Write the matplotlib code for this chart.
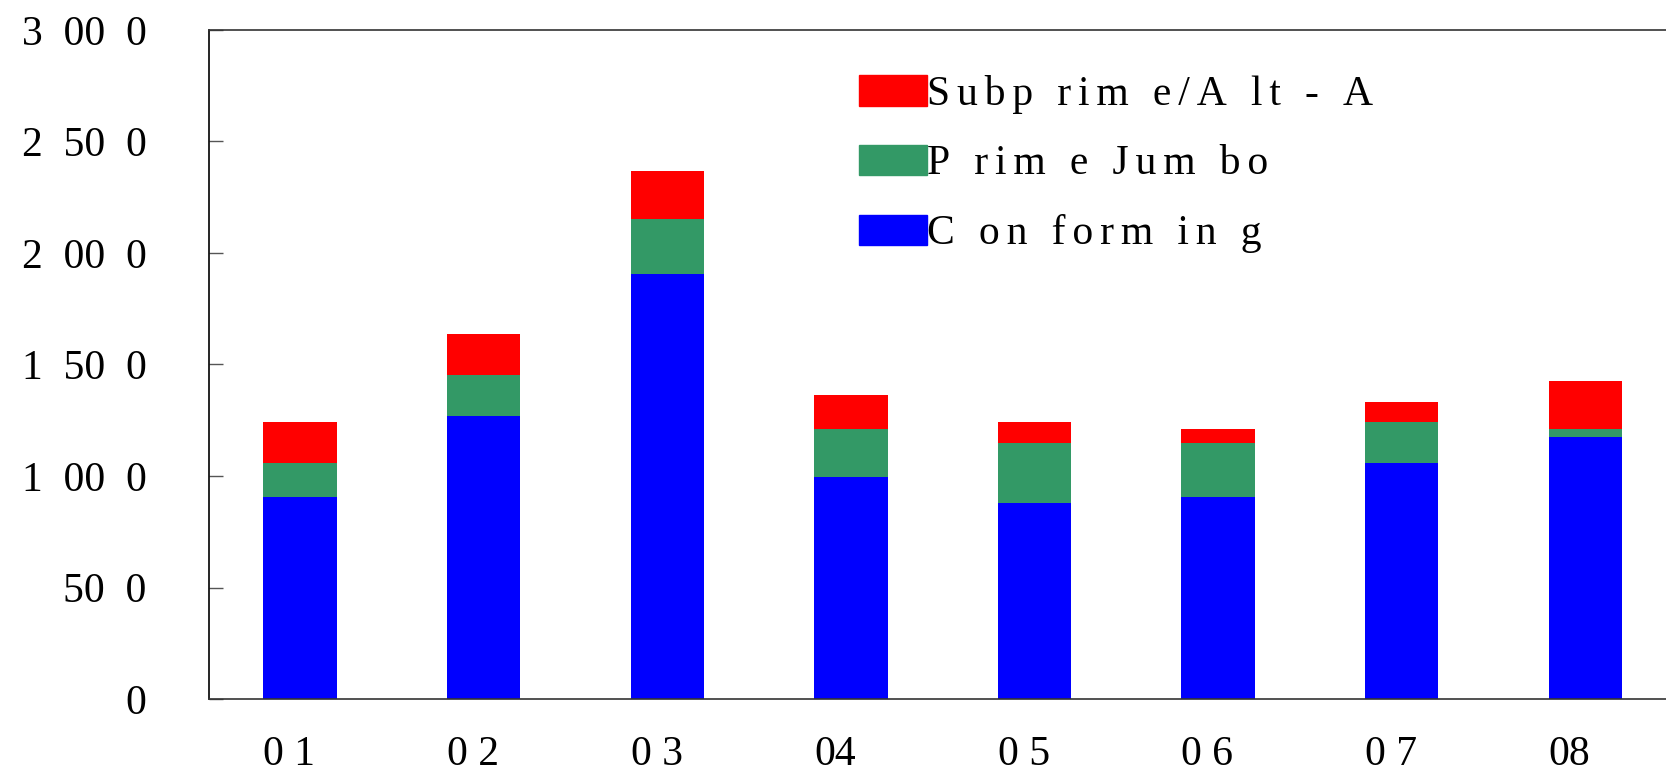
import numpy as np
import matplotlib.pyplot as plt
from matplotlib.patches import Patch

plt.rcParams['font.family'] = ['Liberation Serif', 'DejaVu Serif']

# Mortgage originations by segment
years = ["0 1", "0 2", "0 3", "04", "0 5", "0 6", "0 7", "08"]
conforming = [905, 1268, 1905, 995, 878, 905, 1058, 1174]
prime_jumbo = [153, 184, 246, 215, 271, 244, 184, 36]
subprime_alt_a = [184, 184, 216, 153, 93, 61, 89, 215]

y_ticks = [0, 500, 1000, 1500, 2000, 2500, 3000]
y_labels = ["0", "50  0", "1  00  0", "1  50  0", "2  00  0", "2  50  0", "3  00  0"]

series_names = ["Subp rim e/A lt - A", "P rim e Jum bo", "C on form in g"]
colors = {"conf": "#0000FF", "jumbo": "#339966", "sub": "#FF0000"}

FS = 30
GAP = "\u2006"  # six-per-em space


def spaced(s):
    # wide letter spacing for the legend entries
    return GAP.join(s)


fig = plt.figure(figsize=(16.66, 7.75), dpi=100)
ax = fig.add_axes([0.1255, 0.098, 1.0 - 0.1255, 0.9616 - 0.098])

x = np.arange(len(years))
w = 0.4
conf = np.array(conforming)
jumbo = np.array(prime_jumbo)
sub = np.array(subprime_alt_a)

ax.bar(x, conf, w, color=colors["conf"])
ax.bar(x, jumbo, w, bottom=conf, color=colors["jumbo"])
ax.bar(x, sub, w, bottom=conf + jumbo, color=colors["sub"])

ax.set_xlim(-0.4956, 7.44)
ax.set_ylim(0, 3000)

ax.set_yticks(y_ticks)
ax.set_yticklabels(y_labels, fontsize=FS)
ax.tick_params(axis='y', direction='in', length=10, width=1, color='#555555', pad=45)

# year labels sit flush with the left edge of each bar
ax.set_xticks(x - w / 2)
ax.set_xticklabels(years, fontsize=FS, ha='left')
ax.tick_params(axis='x', length=0, pad=26)

ax.spines['right'].set_visible(False)
ax.spines['left'].set_color('black')
ax.spines['top'].set_color('#333333')
ax.spines['bottom'].set_color('#333333')
for s in ax.spines.values():
    s.set_linewidth(1.2)

handles = [
    Patch(color=colors["sub"], label=spaced(series_names[0])),
    Patch(color=colors["jumbo"], label=spaced(series_names[1])),
    Patch(color=colors["conf"], label=spaced(series_names[2])),
]
ax.legend(handles=handles, loc='upper left', bbox_to_anchor=(859 / 1666, 1 - 75 / 775),
          bbox_transform=fig.transFigure, frameon=False, fontsize=FS,
          handlelength=1.63, handleheight=0.74, handletextpad=0.0,
          labelspacing=0.74, borderpad=0, borderaxespad=0)

fig.savefig('out.png', dpi=100)
